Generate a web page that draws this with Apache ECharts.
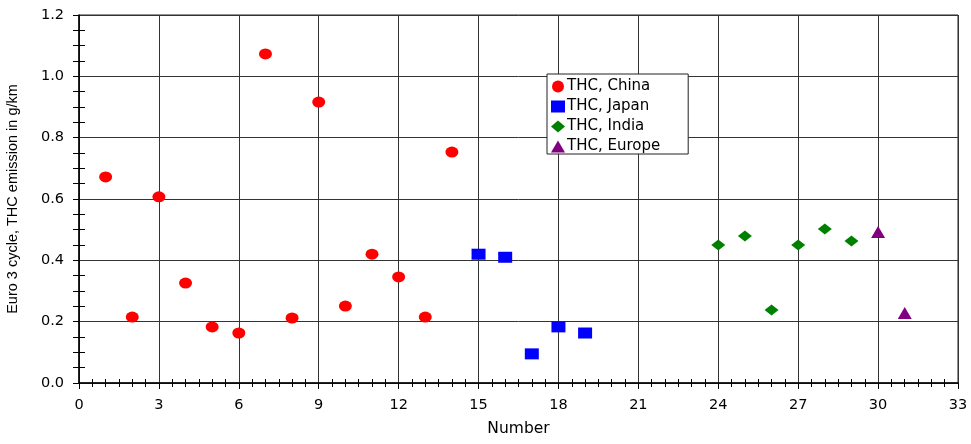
<!DOCTYPE html>
<html><head><meta charset="utf-8">
<script src="https://cdn.jsdelivr.net/npm/echarts@6/dist/echarts.min.js"></script>
<style>html,body{margin:0;padding:0;background:#fff}#c{width:971px;height:444px}</style>
</head><body><div id="c"></div>
<script>
const chinaX = [1,2,3,4,5,6,7,8,9,10,11,12,13,14];
const chinaY = [0.672,0.215,0.607,0.326,0.183,0.163,1.073,0.212,0.916,0.251,0.42,0.346,0.215,0.753];
const japanX = [15,16,17,18,19];
const japanY = [0.42,0.41,0.095,0.183,0.163];
const indiaX = [24,25,26,27,28,29];
const indiaY = [0.45,0.479,0.238,0.45,0.502,0.463];
const europeX = [30,31];
const europeY = [0.492,0.228];
const seriesNames = ['THC, China','THC, Japan','THC, India','THC, Europe'];
const xTitle = 'Number';
const yTitle = 'Euro 3 cycle, THC emission in g/km';

const pair = (xs, ys) => xs.map((x, i) => [x, ys[i]]);
const font = 'DejaVu Sans, sans-serif';
const fontA = 'Liberation Sans, Arial, sans-serif';
const baseX = {type:'value', min:0, max:33, interval:3, position:'bottom'};
const baseY = {type:'value', min:0, max:1.2, interval:0.2, position:'left'};

const chart = echarts.init(document.getElementById('c'));
chart.setOption({
  animation:false,
  backgroundColor:'#fff',
  grid:{left:79, right:13, top:15, bottom:61, show:true, borderColor:'#222', borderWidth:1,
        containLabel:false, outerBoundsMode:'none'},
  legend:{
    orient:'vertical', left:547, top:74, itemGap:5, itemWidth:14, itemHeight:12,
    borderColor:'#222', borderWidth:1, padding:[5,28,0,4], backgroundColor:'#fff',
    textStyle:{fontFamily:font, fontSize:15, color:'#000', padding:[0,0,0,-3]},
    data:seriesNames
  },
  xAxis:[
    Object.assign({}, baseX, {
      name:xTitle, nameLocation:'middle', nameGap:38,
      nameTextStyle:{fontFamily:font, fontSize:15.5, color:'#000'},
      axisLine:{show:true, lineStyle:{color:'#000', width:1.5}},
      axisTick:{show:true, inside:false, length:6, lineStyle:{color:'#000'}},
      minorTick:{show:true, splitNumber:6, length:4, lineStyle:{color:'#000'}},
      axisLabel:{fontFamily:font, fontSize:14.5, color:'#000', margin:15},
      splitLine:{show:true, lineStyle:{color:'#333', width:1}}
    }),
    Object.assign({}, baseX, {
      axisLine:{show:false},
      axisTick:{show:false, inside:true},
      minorTick:{show:true, splitNumber:6, length:4, lineStyle:{color:'#000'}},
      axisLabel:{show:false}, splitLine:{show:false}
    })
  ],
  yAxis:[
    Object.assign({}, baseY, {
      name:yTitle, nameLocation:'middle', nameGap:59, nameRotate:90,
      nameTextStyle:{fontFamily:fontA, fontSize:14.5, color:'#000'},
      axisLine:{show:true, lineStyle:{color:'#000', width:1.5}},
      axisTick:{show:true, inside:false, length:6, lineStyle:{color:'#000'}},
      minorTick:{show:true, splitNumber:4, length:6, lineStyle:{color:'#000'}},
      axisLabel:{fontFamily:font, fontSize:14.5, color:'#000', margin:15, formatter:v=>v.toFixed(1)},
      splitLine:{show:true, lineStyle:{color:'#333', width:1}}
    }),
    Object.assign({}, baseY, {
      axisLine:{show:false},
      axisTick:{show:false, inside:true},
      minorTick:{show:true, splitNumber:4, length:6, lineStyle:{color:'#000'}},
      axisLabel:{show:false}, splitLine:{show:false}
    })
  ],
  series:[
    {name:seriesNames[0], type:'scatter', symbol:'circle', symbolSize:[13,11], itemStyle:{color:'#ff0000', opacity:1}, data:pair(chinaX, chinaY)},
    {name:seriesNames[1], type:'scatter', symbol:'rect', symbolSize:[14,11], itemStyle:{color:'#0000ff', opacity:1}, data:pair(japanX, japanY)},
    {name:seriesNames[2], type:'scatter', symbol:'diamond', symbolSize:[14,11], itemStyle:{color:'#008000', opacity:1}, data:pair(indiaX, indiaY)},
    {name:seriesNames[3], type:'scatter', symbol:'triangle', symbolSize:[14,12], itemStyle:{color:'#800080', opacity:1}, data:pair(europeX, europeY)}
  ]
});
</script>
</body></html>
